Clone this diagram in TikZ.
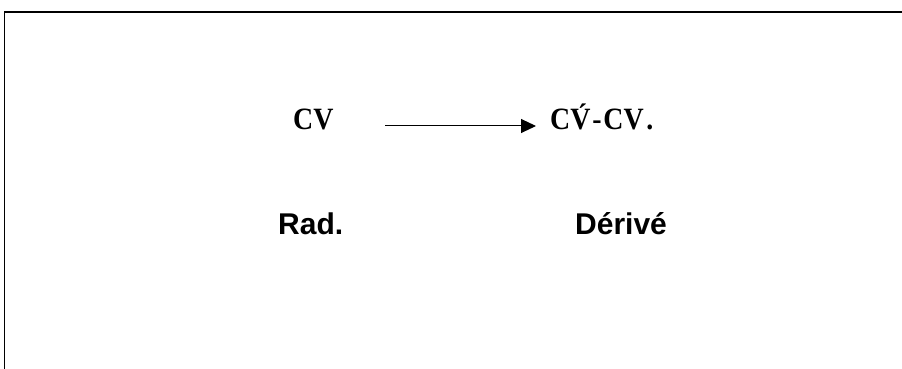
\documentclass[tikz,border=0pt]{standalone}
\usepackage{fontspec}
\setmainfont{Liberation Serif}
\setsansfont{Liberation Sans}
\usetikzlibrary{arrows.meta}
\begin{document}
\begin{tikzpicture}[x=1pt,y=1pt,
  formula/.style={inner sep=0pt,anchor=base west,font=\fontsize{31}{36}\selectfont\bfseries},
  gloss/.style={inner sep=0pt,anchor=base west,font=\fontsize{30}{35}\selectfont\sffamily\bfseries},
  frameline/.style={line width=1.8pt,black},
  derivarrow/.style={line width=1pt,-{Triangle[length=15pt,width=14pt]}}]
\useasboundingbox (0,0) rectangle (902,369);
\coordinate (fbl) at (4.5,0);
\coordinate (ftl) at (4.5,357);
\coordinate (ftr) at (902,357);
\draw[frameline] (fbl) -- (ftl) -- (ftr);
\node[formula] (cv) at (293,239) {\scalebox{0.9}[1]{CV}};
\node[formula] (der) at (550,239) {\scalebox{0.9}[1]{C\'{V}\kern2pt-\kern2pt CV\kern3pt.}};
\coordinate (a1) at (385,243);
\coordinate (a2) at (536,243);
\draw[derivarrow] (a1) -- (a2);
\node[gloss] (rad) at (278,134) {Rad.};
\node[gloss] (drv) at (575,134) {Dérivé};
\end{tikzpicture}
\end{document}
